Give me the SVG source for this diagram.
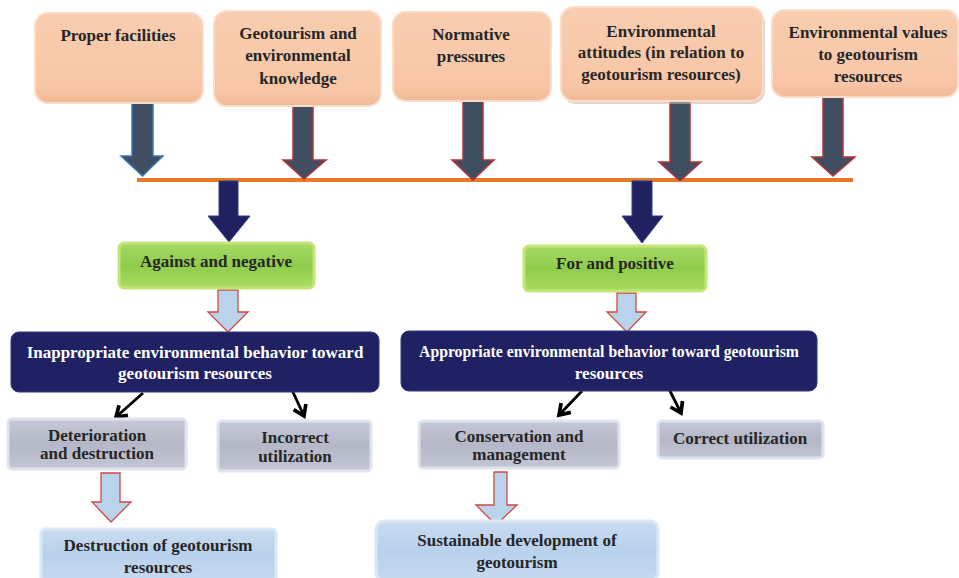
<svg xmlns="http://www.w3.org/2000/svg" width="959" height="578" viewBox="0 0 959 578">
<defs>
<linearGradient id="peach" x1="0" y1="0" x2="0" y2="1">
<stop offset="0" stop-color="#f9cdb0"/><stop offset="0.85" stop-color="#f7c6a6"/><stop offset="1" stop-color="#f1b895"/>
</linearGradient>
<linearGradient id="green" x1="0" y1="0" x2="0" y2="1">
<stop offset="0" stop-color="#a6d964"/><stop offset="0.5" stop-color="#8fcc4c"/><stop offset="1" stop-color="#a9dc62"/>
</linearGradient>
<linearGradient id="grey" x1="0" y1="0" x2="0" y2="1">
<stop offset="0" stop-color="#c6c9d6"/><stop offset="0.5" stop-color="#b3b7c7"/><stop offset="1" stop-color="#c3c6d4"/>
</linearGradient>
<linearGradient id="blue" x1="0" y1="0" x2="0" y2="1">
<stop offset="0" stop-color="#c9dcf0"/><stop offset="0.5" stop-color="#b8d1ec"/><stop offset="1" stop-color="#c6daef"/>
</linearGradient>
<marker id="blk" viewBox="0 0 10 10" refX="7" refY="5" markerWidth="6" markerHeight="6" orient="auto">
<path d="M1,1 L7,5 L1,9" fill="none" stroke="#000" stroke-width="2.2"/>
</marker>
</defs>
<style>
.t{font-family:"Liberation Serif","Times New Roman",serif;font-weight:bold;font-size:17px;fill:#262626;text-anchor:middle}
.w{fill:#ffffff}
.pk{fill:url(#peach);stroke:#fbdcc8;stroke-width:2}
.gr{fill:url(#green);stroke:#c4e678;stroke-width:3}
.nv{fill:#1f2163;stroke:#2c3a86;stroke-width:1}
.gy{fill:url(#grey);stroke:#dfe3ee;stroke-width:3}
.lb{fill:url(#blue);stroke:#dbe8f6;stroke-width:3}
.da{fill:#3f4e60;stroke:#b5343a;stroke-width:1.5}
.db{fill:#3f4e60;stroke:#3a78b8;stroke-width:1.5}
.na{fill:#1f2160;stroke:#2e3f8a;stroke-width:1}
.la{fill:#b9d3ec;stroke:#cf4a3f;stroke-width:1.3}
.bk{stroke:#000;stroke-width:2.8;fill:none;marker-end:url(#blk)}
.ol{stroke:#e8792a;stroke-width:4}
</style>

<g id="connectors">
<line class="ol" x1="137" y1="180" x2="853" y2="180"/>
<path class="db" d="M132,103 H153 V156 H163 L142.5,176 L121,156 H132 Z"/>
<path class="da" d="M293,106 H313 V160 H326 L304,179 L283,160 H293 Z"/>
<path class="da" d="M463,101 H483 V160 H494 L473,180 L452,160 H463 Z"/>
<path class="da" d="M670,101 H690 V162 H701 L680,181 L659,162 H670 Z"/>
<path class="da" d="M823,97 H843 V157 H855 L833,176 L812,157 H823 Z"/>
<path class="na" d="M219,181 H238 V216 H250 L229,242 L208,216 H219 Z"/>
<path class="na" d="M632,181 H652 V216 H663 L642,243 L622,216 H632 Z"/>
<path class="la" d="M218,290 H238 V312 H248 L228,332 L208,312 H218 Z"/>
<path class="la" d="M617,293 H636 V312 H646 L627,332 L607,312 H617 Z"/>
<path class="la" d="M101,473 H120 V502 H131 L111,522 L92,502 H101 Z"/>
<path class="la" d="M494,472 H507 V505 H517 L496,525 L476,505 H494 Z"/>
<line class="bk" x1="143" y1="393" x2="116" y2="417"/>
<line class="bk" x1="292" y1="390" x2="304" y2="416"/>
<line class="bk" x1="582" y1="391" x2="559" y2="415"/>
<line class="bk" x1="668" y1="387" x2="681" y2="413"/>
</g>

<g id="n1"><rect class="pk" x="35" y="13" width="168" height="90" rx="13"/>
<text class="t" x="118" y="41">Proper facilities</text></g>
<g id="n2"><rect class="pk" x="214" y="11" width="167" height="95" rx="13"/>
<text class="t" x="298" y="39">Geotourism and</text><text class="t" x="298" y="61">environmental</text><text class="t" x="298" y="84">knowledge</text></g>
<g id="n3"><rect class="pk" x="393" y="12" width="158" height="89" rx="13"/>
<text class="t" x="471" y="40">Normative</text><text class="t" x="471" y="62">pressures</text></g>
<g id="n4"><rect x="563" y="10" width="202" height="94" rx="13" fill="#c9b8ad" opacity="0.6"/><rect class="pk" x="561" y="7" width="202" height="94" rx="13"/>
<text class="t" x="661" y="37">Environmental</text><text class="t" x="661" y="58">attitudes (in relation to</text><text class="t" x="661" y="80">geotourism resources)</text></g>
<g id="n5"><rect class="pk" x="772" y="10" width="186" height="87" rx="13"/>
<text class="t" x="868" y="38">Environmental values</text><text class="t" x="868" y="60">to geotourism</text><text class="t" x="868" y="82">resources</text></g>

<g id="n6"><rect class="gr" x="119" y="243" width="195" height="45" rx="5"/>
<text class="t" x="216" y="267">Against and negative</text></g>
<g id="n7"><rect class="gr" x="524" y="246" width="182" height="45" rx="5"/>
<text class="t" x="615" y="269">For and positive</text></g>

<g id="n8"><rect class="nv" x="11" y="332" width="368" height="60" rx="8"/>
<text class="t w" x="195" y="358">Inappropriate environmental behavior toward</text><text class="t w" x="195" y="379">geotourism resources</text></g>
<g id="n9"><rect class="nv" x="401" y="331" width="416" height="60" rx="8"/>
<text class="t w" x="609" y="357" textLength="380" lengthAdjust="spacingAndGlyphs">Appropriate environmental behavior toward geotourism</text><text class="t w" x="609" y="379">resources</text></g>

<g id="n10"><rect class="gy" x="8" y="419" width="178" height="50" rx="4"/>
<text class="t" x="97" y="441">Deterioration</text><text class="t" x="97" y="459">and destruction</text></g>
<g id="n11"><rect class="gy" x="218" y="421" width="153" height="50" rx="4"/>
<text class="t" x="295" y="443">Incorrect</text><text class="t" x="295" y="462">utilization</text></g>
<g id="n12"><rect class="gy" x="419" y="421" width="200" height="47" rx="4"/>
<text class="t" x="519" y="442">Conservation and</text><text class="t" x="519" y="460">management</text></g>
<g id="n13"><rect class="gy" x="658" y="421" width="165" height="37" rx="4"/>
<text class="t" x="740" y="444">Correct utilization</text></g>

<g id="n14"><rect class="lb" x="41" y="529" width="235" height="52" rx="4"/>
<text class="t" x="158" y="551">Destruction of geotourism</text><text class="t" x="158" y="573">resources</text></g>
<g id="n15"><rect class="lb" x="376" y="521" width="282" height="60" rx="8"/>
<text class="t" x="517" y="546">Sustainable development of</text><text class="t" x="517" y="568">geotourism</text></g>
</svg>
